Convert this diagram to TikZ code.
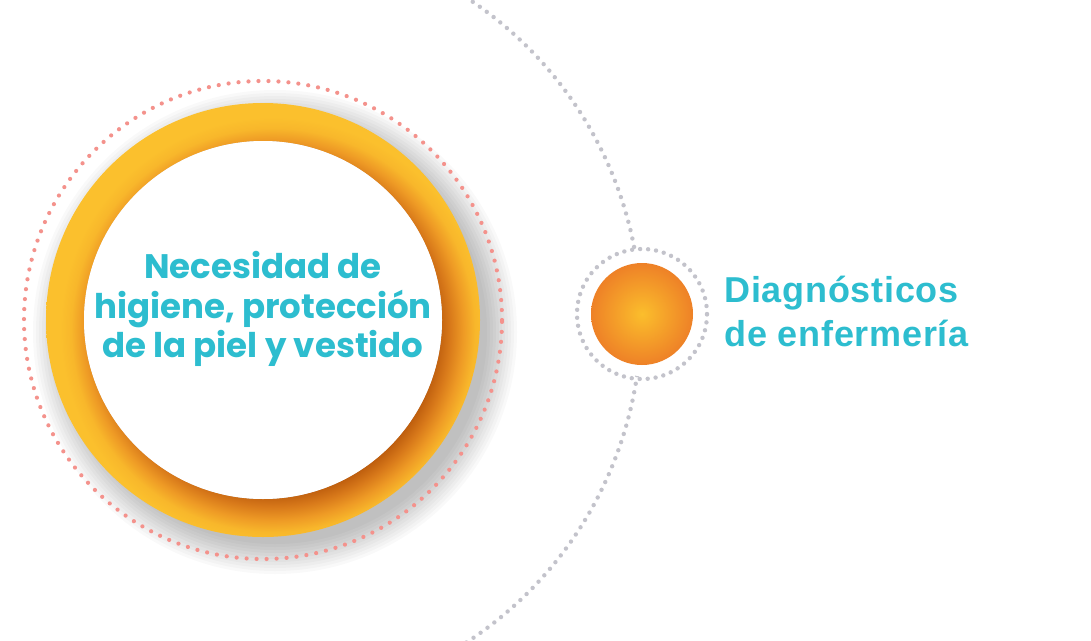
\documentclass[tikz,border=0pt]{standalone}
\usepackage{fontspec}
\newfontfamily\popfont{Poppins}
\newfontfamily\diagfont{Liberation Sans}[LetterSpace=2]
\definecolor{tealtxt}{HTML}{2DBDCF}
\definecolor{pinkdot}{HTML}{F4928C}
\definecolor{graydot}{HTML}{C3C3CB}
\definecolor{ringA}{HTML}{BC5C0D}
\definecolor{ringB}{HTML}{D8791A}
\definecolor{ringC}{HTML}{EE9A25}
\definecolor{ringD}{HTML}{F8B72B}
\definecolor{ringE}{HTML}{FBC02D}
\definecolor{ballin}{HTML}{FBBE2C}
\definecolor{ballout}{HTML}{EE8127}
\pgfdeclareradialshading{ringshade}{\pgfpointorigin}{%
  color(0bp)=(ringA); color(16.4bp)=(ringA); color(17.7bp)=(ringB);
  color(19bp)=(ringC); color(20.2bp)=(ringD); color(21.3bp)=(ringE);
  color(50bp)=(ringE)}
\tikzset{
  pinkdots/.style={draw=pinkdot, line width=4.2pt, line cap=round, dash pattern=on 0pt off 10pt},
  graydots/.style={draw=graydot, line width=4.4pt, line cap=round, dash pattern=on 0pt off 8.6pt},
  shadowlayer/.style={fill=black, fill opacity=0.022},
}
\begin{document}
\begin{tikzpicture}[x=1pt,y=-1pt]
\useasboundingbox (0,0) rectangle (1091,640);
\clip (0,0) rectangle (1091,640);
\fill[white] (0,0) rectangle (1091,640);
% big gray arc
\coordinate (arcc) at (256,320);
\draw[graydots] (arcc) ++(-62:385pt) arc[start angle=-62, end angle=62, radius=385pt];
% shadow of the ring
\coordinate (shc) at (275,332);
\foreach \r in {242,239,...,212} {\fill[shadowlayer] (shc) circle[radius=\r pt];}
% pink dotted circle
\coordinate (bigc) at (263,320);
\draw[pinkdots] (bigc) circle[radius=239pt];
% ring
\begin{scope}[even odd rule]
  \clip (bigc) circle[radius=217pt] (bigc) circle[radius=179pt];
  \shade[shading=ringshade] (273,330) circle[radius=250pt];
\end{scope}
\fill[white] (bigc) circle[radius=179pt];
\node[align=center, text=tealtxt, font=\popfont\bfseries\fontsize{34}{39.5}\selectfont] (need) at (263,309) {Necesidad de\\higiene, protección\\de la piel y vestido};
% small circle
\coordinate (smallc) at (642,314);
\fill[white] (smallc) circle[radius=62pt];
\draw[graydots, dash pattern=on 0pt off 8pt] (smallc) circle[radius=65pt];
\shade[inner color=ballin, outer color=ballout] (smallc) circle[radius=51pt];
\node[anchor=west, align=left, text=tealtxt, font=\diagfont\bfseries\fontsize{36}{44}\selectfont] (diag) at (721,311) {Diagnósticos\\de enfermería};
\end{tikzpicture}
\end{document}
